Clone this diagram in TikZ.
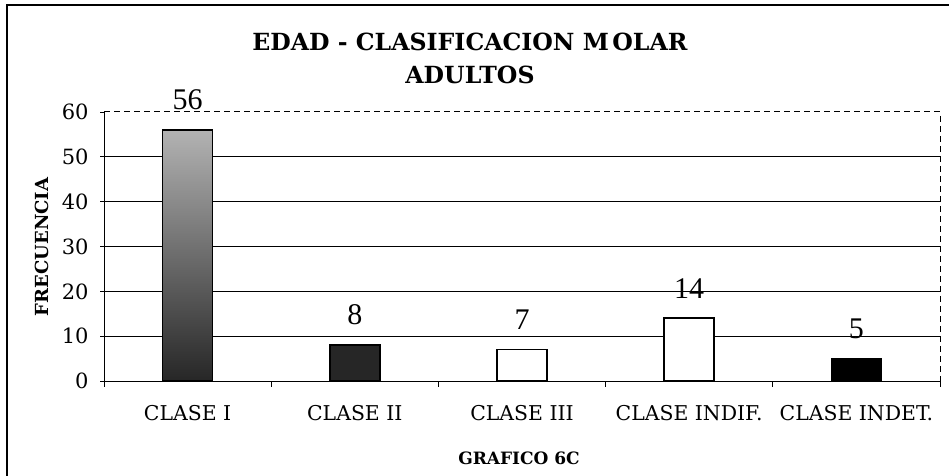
\documentclass[tikz,border=0pt]{standalone}
\usepackage{fontspec}
\setmainfont{DejaVu Serif}
\newfontfamily\numfont{Liberation Serif}
\tikzstyle{bar} = [draw, line width=0.8pt]
\tikzstyle{grid} = [line width=0.5pt]
\tikzstyle{val} = [font=\numfont\fontsize{15}{15}\selectfont, inner sep=0pt]
\tikzstyle{cat} = [font=\fontsize{10.2}{12}\selectfont, inner sep=0pt]
\tikzstyle{tick} = [font=\fontsize{10.5}{12}\selectfont, anchor=east, inner sep=0pt]

\begin{document}
\begin{tikzpicture}[x=0.5pt, y=-0.5pt]
\useasboundingbox (0,0) rectangle (949,476);
% marco
\draw[line width=0.6pt] (7,476) -- (7,5) -- (949,5);
\node[font=\bfseries\fontsize{11.8}{13}\selectfont] (titulo) at (470,42) {EDAD - CLASIFICACION M\hspace{0.15em}OLAR};
\node[font=\bfseries\fontsize{11.8}{13}\selectfont] (subtitulo) at (470,75) {ADULTOS};

% rejilla
\foreach \v in {10,20,...,50}
  \draw[grid] (104,{381-4.48*\v}) -- (940,{381-4.48*\v});
\draw[grid, densely dashed] (104,112) -- (940,112) -- (940,381);
\draw[grid] (104,112) -- (104,381) -- (940,381);
\foreach \v in {0,10,...,60}{
  \draw[grid] (100,{381-4.48*\v}) -- (104,{381-4.48*\v});
  \node[tick] (t\v) at (89,{381-4.48*\v}) {\v};
}
\foreach \i in {0,...,5}
  \draw[grid] ({104+167.2*\i},381) -- ({104+167.2*\i},387);

% barras
\shade[bar, top color=black!30, bottom color=black!85] (162.6,381) rectangle (212.6,{381-4.48*56});
\draw[bar, fill=black!85] (329.8,381) rectangle (379.8,{381-4.48*8});
\draw[bar, fill=white] (497,381) rectangle (547,{381-4.48*7});
\draw[bar, fill=white] (664.2,381) rectangle (714.2,{381-4.48*14});
\draw[bar, fill=black] (831.4,381) rectangle (881.4,{381-4.48*5});

\node[val] (v1) at (187.6,{381-4.48*56-30}) {56};
\node[val] (v2) at (354.8,{381-4.48*8-30}) {8};
\node[val] (v3) at (522,{381-4.48*7-30}) {7};
\node[val] (v4) at (689.2,{381-4.48*14-30}) {14};
\node[val] (v5) at (856.4,{381-4.48*5-30}) {5};

\node[cat] (c1) at (187.6,413) {CLASE I};
\node[cat] (c2) at (354.8,413) {CLASE II};
\node[cat] (c3) at (522,413) {CLASE III};
\node[cat] (c4) at (689.2,413) {CLASE INDIF.};
\node[cat] (c5) at (856.4,413) {CLASE INDET.};

\node[rotate=90, font=\bfseries\fontsize{9}{11}\selectfont] (ylab) at (42,247) {FRECUENCIA};
\node[font=\bfseries\fontsize{8.5}{10}\selectfont] (pie) at (519,458) {GRAFICO 6C};
\end{tikzpicture}
\end{document}
